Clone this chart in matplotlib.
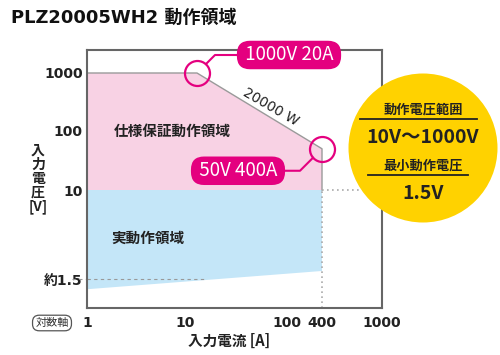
import numpy as np
import matplotlib
matplotlib.use("Agg")
import matplotlib.pyplot as plt
from matplotlib.patches import Circle
from matplotlib.lines import Line2D
from matplotlib.transforms import blended_transform_factory

DV = ['DejaVu Sans', 'Noto Sans CJK JP']
NOTO = ['Noto Sans CJK JP', 'DejaVu Sans']
plt.rcParams['font.family'] = DV

# --- data ---
spec_current = [1, 1, 20, 400, 400]          # A, guaranteed area outline
spec_voltage = [10, 1000, 1000, 50, 10]      # V
real_current = [1, 400, 400, 1]              # A, real operating area
real_voltage = [10, 10, 1.78, 1.3]           # V
x_ticks = [1, 10, 100, 400, 1000]
x_labels = ['1', '10', '100', '400', '1000']
y_ticks = [1.5, 10, 100, 1000]
y_labels = ['約1.5', '10', '100', '1000']

PINK = '#f8d2e4'
BLUE = '#c4e6f8'
MAGENTA = '#e4007f'
YELLOW = '#ffd200'
FRAME = '#666666'
TXT = '#222222'

# schematic log axes (the source drawing is not a true log scale)
XK = np.log10([1, 10, 20, 100, 400, 1000])
XP = np.array([87, 185, 197, 287, 322, 382], dtype=float)
YK = np.log10([1, 1.5, 10, 100, 1000, 2500])
YP = -np.array([308, 279, 190, 131, 73, 50], dtype=float)


def x_fwd(v):
    return np.interp(np.log10(np.clip(np.asarray(v, float), 1e-9, None)), XK, XP)


def x_inv(p):
    return 10 ** np.interp(p, XP, XK)


def y_fwd(v):
    return np.interp(np.log10(np.clip(np.asarray(v, float), 1e-9, None)), YK, YP)


def y_inv(p):
    return 10 ** np.interp(p, YP, YK)


W, H = 500, 355
fig = plt.figure(figsize=(W / 100, H / 100), dpi=100)
ax = fig.add_axes([87 / W, 1 - 308 / H, 295 / W, 258 / H])
ax.set_xscale('function', functions=(x_fwd, x_inv))
ax.set_yscale('function', functions=(y_fwd, y_inv))
ax.set_xlim(1, 1000)
ax.set_ylim(1, 2500)

# regions
ax.fill(real_current, real_voltage, color=BLUE, lw=0, zorder=1)
ax.fill(spec_current, spec_voltage, color=PINK, lw=0, zorder=1)
ax.plot(spec_current[1:], spec_voltage[1:], color='#9a9a9a', lw=1, zorder=2)

# guide lines
ax.plot([400, 400], [1, 10], color='#aaaaaa', lw=1.2, ls=(0, (1, 2)), zorder=2)
ax.plot([400, 1000], [10, 10], color='#aaaaaa', lw=1.2, ls=(0, (1, 2)), zorder=2)
ax.plot([1, 24], [1.5, 1.5], color='#999999', lw=0.8, ls=(0, (3, 3)), zorder=2)
tr = blended_transform_factory(ax.transAxes, ax.transData)
ax.plot([-0.05, 0], [1.5, 1.5], color='#999999', lw=0.8, ls=(0, (3, 3)),
        transform=tr, clip_on=False)

# ticks
ax.set_xticks(x_ticks, labels=x_labels)
ax.set_yticks(y_ticks, labels=y_labels)
ax.minorticks_off()
ax.tick_params(length=0, labelsize=10, labelcolor=TXT)
ax.tick_params(axis='x', pad=6)
ax.tick_params(axis='y', pad=3)
for lab in ax.get_xticklabels() + ax.get_yticklabels():
    lab.set_fontweight('bold')
for s in ax.spines.values():
    s.set_color(FRAME)
    s.set_linewidth(1.5)

# region labels
ax.text(7.5, 100, '仕様保証動作領域', fontsize=10.5, fontweight='bold', color=TXT,
        family=NOTO, ha='center', va='center', zorder=3)
ax.text(4.2, 3.6, '実動作領域', fontsize=10.5, fontweight='bold', color=TXT,
        family=NOTO, ha='center', va='center', zorder=3)

# power line label
ax.annotate('20000 W', xy=(20, 1000), xytext=(74, -34), textcoords='offset pixels',
            rotation=-30, fontsize=10, color=TXT, ha='center', va='center',
            rotation_mode='anchor', zorder=4)

# corner callouts
box = dict(boxstyle='round,pad=0.2,rounding_size=0.7', fc=MAGENTA, ec='none')
for (cx, cy, label, off) in [(20, 1000, ' 1000V 20A ', (92, 18)),
                             (400, 50, ' 50V 400A ', (-84, -22))]:
    ax.plot([cx], [cy], marker='o', ms=18, mfc='none', mec=MAGENTA, mew=1.6,
            zorder=5, clip_on=False)
    ax.annotate(label, xy=(cx, cy), xytext=off, textcoords='offset pixels',
                fontsize=13.5, color='white', family=NOTO, ha='center', va='center',
                bbox=box, zorder=6, annotation_clip=False,
                arrowprops=dict(arrowstyle='-', color=MAGENTA, lw=1.5,
                                shrinkA=0, shrinkB=9,
                                connectionstyle='angle,angleA=0,angleB=45,rad=0'))

# axis titles
fig.text(38 / W, 1 - 179 / H, '入\n力\n電\n圧\n[V]', fontsize=10, fontweight='bold',
         color=TXT, family=NOTO, ha='center', va='center', linespacing=1.0)
fig.text(229 / W, 1 - 341 / H, '入力電流 [A]', fontsize=10.5, fontweight='bold',
         color=TXT, family=NOTO, ha='center', va='center')
fig.text(52 / W, 1 - 323 / H, '対数軸', fontsize=8, color='#333333', family=NOTO,
         ha='center', va='center',
         bbox=dict(boxstyle='round,pad=0.25,rounding_size=0.6', fc='white',
                   ec='#555555', lw=0.9))

# title
fig.text(11 / W, 1 - 18 / H, 'PLZ20005WH2 動作領域', fontsize=13, fontweight='bold',
         color='#111111', ha='left', va='center')

# yellow summary badge
fig.add_artist(Circle((4.23, (H - 148) / 100), 0.745, transform=fig.dpi_scale_trans,
                      fc=YELLOW, ec='none', zorder=3))
for y0, x0, x1 in [(119, 360, 477), (175, 368, 468)]:
    fig.add_artist(Line2D([x0 / W, x1 / W], [1 - y0 / H, 1 - y0 / H],
                          color='#222222', lw=1.3, zorder=4))
for y0, s, fs in [(110, '動作電圧範囲', 9.5), (138, '10V〜1000V', 14),
                  (166, '最小動作電圧', 9.5), (193, '1.5V', 14)]:
    fig.text(423 / W, 1 - y0 / H, s, fontsize=fs, fontweight='bold', color=TXT,
             family=NOTO, ha='center', va='center', zorder=5)

fig.savefig('out.png', dpi=100)
